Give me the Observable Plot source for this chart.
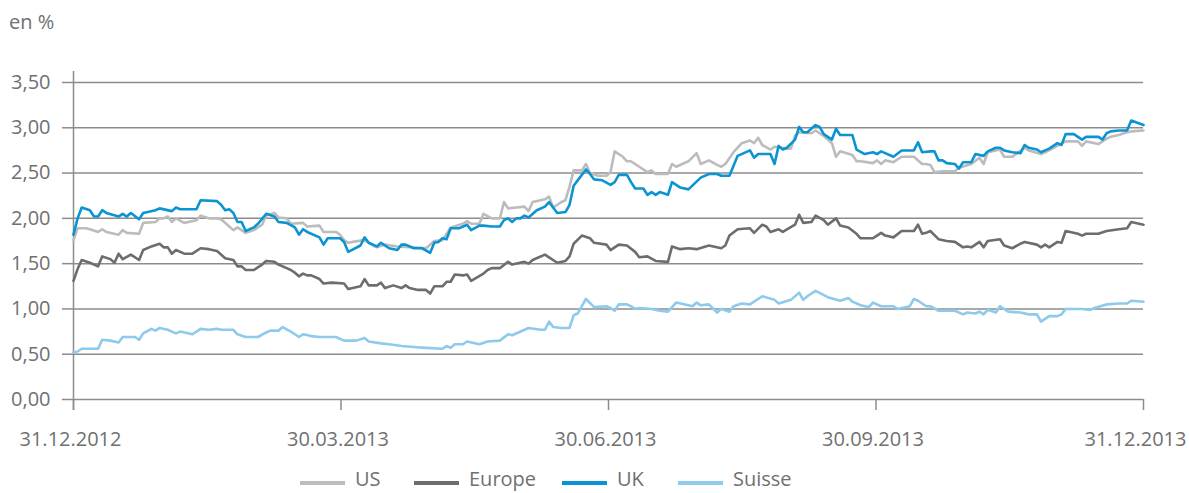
<!DOCTYPE html>
<html><head><meta charset="utf-8">
<script src="https://cdn.jsdelivr.net/npm/d3@7"></script>
<script src="https://cdn.jsdelivr.net/npm/@observablehq/plot@0.6"></script>
<style>
body{margin:0;background:#fff;font-family:"Open Sans",sans-serif;color:#707070}
#wrap{position:relative;width:1189px;height:493px;overflow:hidden;background:#fff}
#title{height:40px;position:relative}
#title span{position:absolute;left:9px;top:12px;font-size:20px;line-height:20px}
#legend{position:relative;height:31px}
.item{position:absolute;top:0;height:31px}
.sw{position:absolute;left:0;top:19px;width:45px;height:4px}
.lab{position:absolute;left:55px;top:7px;font-size:20px;line-height:20px;white-space:nowrap}
</style></head>
<body><div id="wrap"><div id="title"><span>en %</span></div><div id="chart"></div><div id="legend"></div></div>
<script>
// x = trading day index (0 = 31.12.2012, 261 = 31.12.2013), value in %
const us = [[0,1.76],[1,1.89],[3,1.89],[4,1.88],[6,1.85],[7,1.88],[8,1.85],[11,1.82],[12,1.87],[13,1.84],[16,1.83],[17,1.95],[20,1.96],[21,2.00],[22,2.00],[23,2.02],[24,1.96],[25,2.00],[27,1.95],[30,1.98],[31,2.03],[33,2.00],[35,2.00],[36,1.99],[39,1.87],[40,1.90],[42,1.84],[44,1.87],[46,1.93],[47,2.03],[49,2.06],[50,2.01],[52,2.00],[53,1.94],[56,1.95],[57,1.91],[60,1.92],[61,1.85],[64,1.85],[65,1.82],[66,1.76],[67,1.73],[68,1.74],[71,1.76],[73,1.70],[74,1.68],[76,1.71],[79,1.69],[83,1.68],[86,1.67],[88,1.75],[90,1.76],[92,1.90],[95,1.94],[96,1.97],[97,1.94],[99,1.94],[100,2.05],[102,2.00],[104,2.00],[105,2.18],[106,2.11],[108,2.12],[110,2.13],[111,2.08],[112,2.18],[115,2.21],[116,2.24],[117,2.12],[119,2.18],[120,2.20],[121,2.35],[122,2.53],[124,2.53],[125,2.60],[126,2.50],[128,2.47],[130,2.47],[131,2.51],[132,2.74],[134,2.68],[135,2.63],[136,2.63],[138,2.57],[140,2.51],[141,2.53],[142,2.49],[145,2.49],[146,2.60],[147,2.57],[150,2.63],[152,2.72],[153,2.60],[155,2.64],[157,2.59],[158,2.57],[159,2.60],[161,2.73],[163,2.83],[165,2.86],[166,2.83],[167,2.89],[168,2.81],[170,2.76],[171,2.79],[174,2.77],[175,2.77],[176,2.91],[177,2.95],[180,2.94],[181,2.97],[183,2.91],[184,2.87],[185,2.83],[186,2.68],[187,2.74],[190,2.70],[191,2.63],[192,2.63],[195,2.61],[196,2.64],[197,2.60],[198,2.64],[200,2.62],[202,2.68],[205,2.68],[207,2.60],[208,2.60],[209,2.59],[210,2.51],[212,2.52],[213,2.52],[215,2.52],[216,2.56],[219,2.60],[221,2.67],[222,2.60],[223,2.73],[226,2.76],[227,2.68],[229,2.68],[232,2.78],[233,2.75],[236,2.71],[237,2.73],[240,2.80],[242,2.85],[245,2.85],[246,2.80],[247,2.85],[250,2.82],[252,2.88],[253,2.90],[255,2.92],[257,2.95],[258,2.96],[261,2.97]];
const europe = [[0,1.31],[1,1.44],[2,1.54],[4,1.51],[6,1.47],[7,1.58],[9,1.55],[10,1.51],[11,1.61],[12,1.55],[14,1.60],[16,1.54],[17,1.65],[19,1.69],[21,1.72],[22,1.68],[23,1.68],[24,1.61],[25,1.65],[27,1.61],[29,1.61],[31,1.67],[33,1.66],[35,1.64],[37,1.56],[39,1.54],[40,1.47],[41,1.47],[42,1.43],[44,1.43],[46,1.49],[47,1.53],[49,1.52],[50,1.49],[52,1.45],[53,1.43],[54,1.40],[55,1.36],[56,1.39],[57,1.37],[58,1.37],[60,1.33],[61,1.28],[63,1.29],[66,1.28],[67,1.22],[70,1.25],[71,1.33],[72,1.26],[74,1.26],[75,1.29],[76,1.23],[78,1.26],[80,1.23],[81,1.26],[82,1.23],[84,1.21],[86,1.21],[87,1.17],[88,1.25],[90,1.25],[91,1.30],[92,1.30],[93,1.38],[95,1.37],[96,1.38],[97,1.31],[100,1.39],[101,1.43],[102,1.45],[104,1.45],[106,1.52],[107,1.49],[110,1.52],[111,1.50],[112,1.54],[115,1.60],[116,1.57],[118,1.51],[120,1.53],[121,1.58],[122,1.72],[124,1.81],[126,1.78],[127,1.73],[130,1.71],[131,1.65],[133,1.71],[135,1.70],[137,1.63],[138,1.57],[140,1.58],[142,1.53],[145,1.52],[146,1.69],[148,1.66],[150,1.67],[152,1.66],[155,1.70],[158,1.67],[159,1.70],[160,1.81],[162,1.88],[165,1.89],[166,1.84],[168,1.93],[169,1.91],[170,1.85],[172,1.88],[173,1.85],[176,1.93],[177,2.04],[178,1.95],[180,1.96],[181,2.03],[183,1.98],[184,1.93],[186,2.00],[187,1.92],[189,1.90],[191,1.83],[192,1.78],[195,1.78],[196,1.81],[197,1.84],[198,1.81],[200,1.79],[202,1.86],[205,1.86],[206,1.93],[207,1.83],[208,1.84],[209,1.86],[211,1.77],[213,1.75],[215,1.74],[217,1.68],[218,1.69],[219,1.68],[221,1.74],[222,1.68],[223,1.75],[226,1.77],[227,1.70],[229,1.67],[231,1.72],[232,1.74],[235,1.71],[236,1.68],[237,1.71],[238,1.68],[240,1.74],[241,1.73],[242,1.86],[245,1.83],[246,1.81],[247,1.83],[250,1.83],[252,1.86],[255,1.88],[257,1.89],[258,1.96],[261,1.93]];
const uk = [[0,1.82],[1,2.00],[2,2.12],[4,2.09],[5,2.02],[6,2.02],[7,2.09],[8,2.06],[11,2.02],[12,2.05],[13,2.02],[14,2.06],[16,1.99],[17,2.06],[20,2.09],[21,2.11],[24,2.08],[25,2.12],[26,2.10],[30,2.10],[31,2.20],[35,2.19],[36,2.15],[37,2.09],[38,2.10],[39,2.06],[40,1.96],[41,1.96],[42,1.86],[44,1.90],[45,1.94],[47,2.05],[49,2.02],[50,1.96],[52,1.95],[54,1.90],[55,1.82],[56,1.88],[57,1.85],[60,1.79],[61,1.71],[62,1.78],[65,1.78],[66,1.74],[67,1.63],[70,1.70],[71,1.79],[72,1.73],[74,1.69],[75,1.73],[77,1.67],[79,1.65],[80,1.71],[81,1.71],[83,1.67],[85,1.67],[87,1.62],[88,1.73],[89,1.74],[90,1.78],[91,1.77],[92,1.89],[94,1.89],[96,1.93],[97,1.87],[99,1.92],[100,1.92],[102,1.91],[104,1.91],[105,1.98],[106,2.00],[107,1.96],[108,2.00],[109,2.00],[110,2.03],[111,2.01],[113,2.09],[115,2.13],[116,2.18],[117,2.12],[118,2.06],[120,2.07],[121,2.15],[122,2.36],[124,2.48],[125,2.54],[126,2.49],[127,2.43],[129,2.42],[131,2.37],[132,2.40],[133,2.48],[135,2.48],[136,2.40],[137,2.33],[139,2.33],[140,2.26],[141,2.29],[142,2.26],[143,2.29],[145,2.26],[146,2.40],[148,2.34],[150,2.32],[153,2.45],[155,2.49],[157,2.49],[158,2.47],[160,2.47],[161,2.58],[162,2.69],[165,2.75],[166,2.67],[167,2.71],[170,2.71],[171,2.60],[172,2.80],[173,2.76],[174,2.78],[176,2.87],[177,3.01],[178,2.95],[179,2.95],[181,3.03],[182,3.01],[183,2.93],[185,2.87],[186,2.99],[187,2.92],[190,2.92],[191,2.76],[193,2.71],[195,2.73],[196,2.71],[197,2.74],[200,2.68],[202,2.75],[205,2.75],[206,2.84],[207,2.73],[209,2.74],[210,2.74],[211,2.64],[212,2.64],[213,2.61],[215,2.60],[216,2.55],[217,2.62],[219,2.62],[220,2.71],[222,2.69],[223,2.74],[225,2.78],[226,2.78],[227,2.75],[229,2.73],[231,2.72],[232,2.81],[233,2.78],[235,2.76],[236,2.73],[237,2.75],[238,2.77],[240,2.83],[241,2.81],[242,2.93],[244,2.93],[246,2.87],[247,2.90],[250,2.90],[251,2.87],[252,2.94],[253,2.96],[255,2.97],[257,2.97],[258,3.08],[261,3.03]];
const suisse = [[0,0.52],[1,0.53],[2,0.56],[6,0.56],[7,0.66],[9,0.65],[11,0.63],[12,0.69],[13,0.69],[15,0.69],[16,0.66],[17,0.73],[19,0.78],[20,0.76],[21,0.79],[23,0.77],[24,0.75],[25,0.73],[26,0.75],[29,0.72],[31,0.78],[33,0.77],[35,0.78],[36,0.77],[39,0.77],[40,0.72],[42,0.69],[45,0.69],[47,0.74],[48,0.76],[50,0.76],[51,0.80],[53,0.75],[54,0.72],[55,0.69],[56,0.72],[58,0.70],[60,0.69],[64,0.69],[66,0.65],[69,0.65],[71,0.68],[72,0.64],[75,0.62],[77,0.61],[80,0.59],[83,0.58],[86,0.57],[90,0.56],[91,0.59],[92,0.57],[93,0.61],[95,0.61],[96,0.64],[99,0.61],[101,0.64],[104,0.65],[106,0.72],[107,0.71],[111,0.79],[114,0.77],[115,0.77],[116,0.86],[117,0.80],[119,0.79],[121,0.79],[122,0.93],[123,0.95],[125,1.11],[127,1.02],[130,1.03],[131,1.01],[132,0.98],[133,1.05],[135,1.05],[136,1.03],[137,1.00],[138,1.01],[141,1.00],[143,0.98],[145,0.97],[147,1.07],[150,1.04],[151,1.03],[152,1.07],[153,1.04],[155,1.05],[157,0.96],[158,1.00],[160,0.97],[161,1.03],[163,1.06],[165,1.05],[168,1.14],[171,1.10],[172,1.06],[175,1.10],[177,1.18],[178,1.10],[179,1.14],[181,1.20],[184,1.13],[187,1.09],[189,1.12],[190,1.08],[192,1.04],[194,1.02],[195,1.07],[197,1.03],[200,1.03],[201,1.00],[204,1.03],[205,1.11],[206,1.09],[208,1.03],[209,1.03],[211,0.98],[215,0.98],[217,0.94],[218,0.96],[220,0.95],[221,0.97],[222,0.94],[223,0.99],[225,0.96],[226,1.03],[228,0.97],[231,0.96],[233,0.94],[235,0.94],[236,0.86],[238,0.92],[240,0.92],[241,0.94],[242,1.00],[246,1.00],[248,0.99],[249,1.01],[252,1.05],[255,1.06],[257,1.06],[258,1.09],[261,1.08]];

const seriesNames = ["US","Europe","UK","Suisse"];
const seriesColors = ["#bcbcbc","#6d6d6d","#0b94d2","#8dcaec"];
const yTicks = [0,0.5,1,1.5,2,2.5,3,3.5];
const xTickDays = [0,65.25,130.5,195.75,261];
const xTickLabels = ["31.12.2012","30.03.2013","30.06.2013","30.09.2013","31.12.2013"];

const rows = [];
[us, europe, uk, suisse].forEach((s,i)=>s.forEach(([t,v])=>rows.push({t, v, series: seriesNames[i]})));

const gridColor = "#8c8c8c", textColor = "#707070";
const fmtX = d=>xTickLabels[xTickDays.indexOf(d)];
const chart = Plot.plot({
  width:1189, height:422,
  marginTop:42, marginBottom:63, marginLeft:73, marginRight:46,
  style:{fontFamily:"Open Sans", fontSize:"20px", color:textColor, background:"#fff", overflow:"visible"},
  x:{domain:[0,261]},
  y:{domain:[0,3.5]},
  color:{domain:seriesNames, range:seriesColors},
  marks:[
    Plot.gridY(yTicks,{stroke:gridColor, strokeOpacity:1, strokeWidth:1.5}),
    Plot.ruleX([0],{stroke:gridColor, strokeWidth:1.5, insetTop:-11, insetBottom:-11}),
    Plot.axisY(yTicks,{tickSize:11, tickPadding:12, tickFormat:d=>d.toFixed(2).replace(".",","), stroke:gridColor, strokeWidth:1.5, fill:textColor, label:null}),
    Plot.axisX(xTickDays,{tickSize:11, text:null, stroke:gridColor, strokeWidth:1.5, label:null}),
    Plot.axisX(xTickDays.slice(0,-1),{tickSize:0, tickPadding:32, tickFormat:fmtX, dx:-3, fill:textColor, label:null}),
    Plot.axisX(xTickDays.slice(-1),{tickSize:0, tickPadding:32, tickFormat:fmtX, dx:-8, fill:textColor, label:null}),
    Plot.line(rows,{x:"t", y:"v", z:"series", stroke:"series", strokeWidth:2.6})
  ]
});
document.getElementById("chart").appendChild(chart);

const legendLeft = [300,414,562,678];
const leg = document.getElementById("legend");
seriesNames.forEach((n,i)=>{
  const it = document.createElement("div"); it.className="item"; it.style.left = legendLeft[i]+"px";
  const sw = document.createElement("div"); sw.className="sw"; sw.style.background = seriesColors[i];
  const lb = document.createElement("div"); lb.className="lab"; lb.textContent = n;
  it.appendChild(sw); it.appendChild(lb); leg.appendChild(it);
});
</script></body></html>
